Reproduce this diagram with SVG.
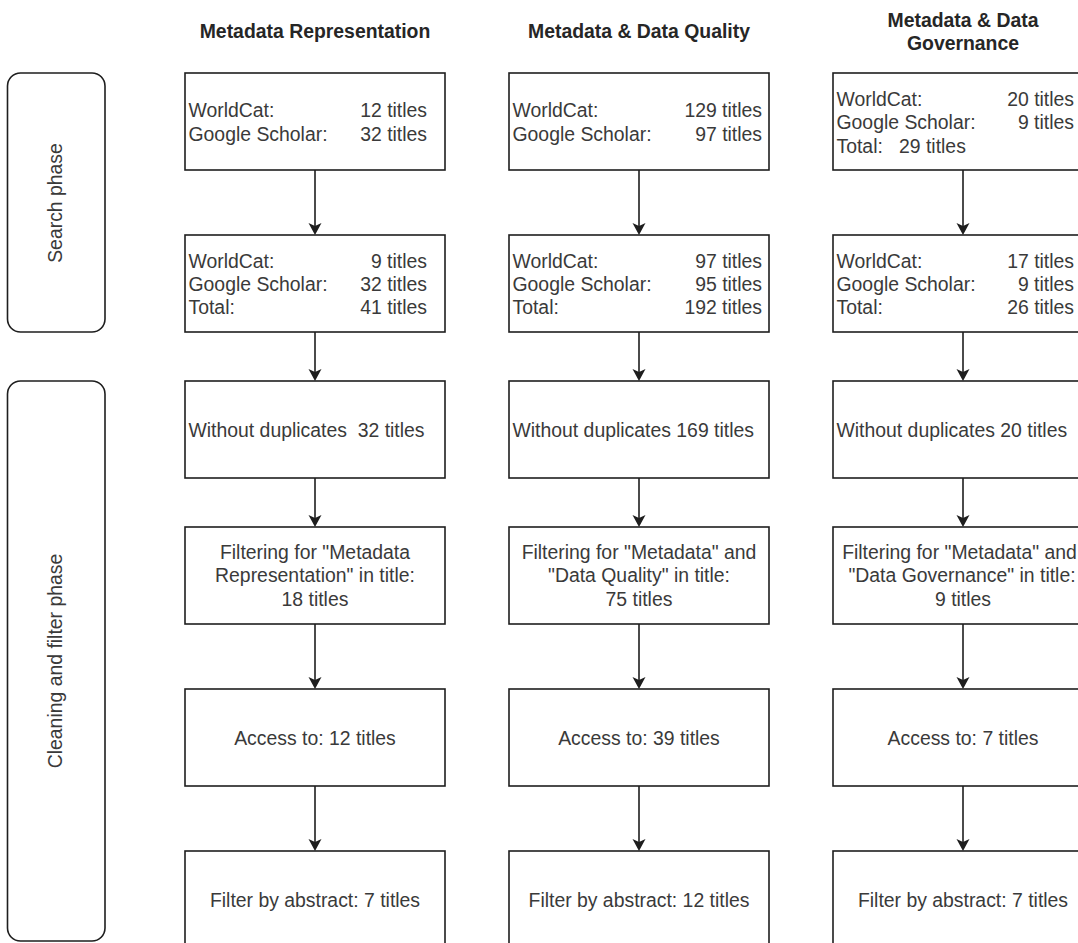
<svg xmlns="http://www.w3.org/2000/svg" width="1078" height="943" viewBox="0 0 1078 943">
<defs>
<style>
.box{fill:#fff;stroke:#1e1e1e;stroke-width:1.6}
.phase{fill:#fff;stroke:#1e1e1e;stroke-width:1.6}
.t{font-family:"Liberation Sans",Arial,sans-serif;font-size:19.4px;fill:#3a3a3a;white-space:pre}
.h{font-family:"Liberation Sans",Arial,sans-serif;font-size:19.4px;font-weight:bold;fill:#262626;text-anchor:middle}
.c{text-anchor:middle}
.r{text-anchor:end}
.edge{stroke:#1e1e1e;stroke-width:1.6;fill:none;marker-end:url(#arr)}
</style>
<marker id="arr" markerUnits="userSpaceOnUse" markerWidth="14" markerHeight="14" refX="3" refY="6.5" orient="auto">
<path d="M0,0 L12,6.5 L0,13 L3,6.5 Z" fill="#1e1e1e"/>
</marker>
</defs>
<rect width="1078" height="943" fill="#fff"/>

<g id="headers">
<text class="h" x="315" y="38">Metadata Representation</text>
<text class="h" x="639" y="38">Metadata &amp; Data Quality</text>
<text class="h" x="963" y="27">Metadata &amp; Data</text>
<text class="h" x="963" y="50">Governance</text>
</g>

<g id="search-phase">
<rect class="phase" x="7.5" y="73" width="97.5" height="259" rx="13"/>
<text class="t c" transform="translate(62,203) rotate(-90)">Search phase</text>
</g>
<g id="cleaning-phase">
<rect class="phase" x="7.5" y="381" width="97.5" height="560" rx="13"/>
<text class="t c" transform="translate(62,661) rotate(-90)">Cleaning and filter phase</text>
</g>

<g id="connectors">
<line class="edge" x1="315" y1="170" x2="315" y2="226"/>
<line class="edge" x1="315" y1="332" x2="315" y2="372"/>
<line class="edge" x1="315" y1="478" x2="315" y2="518"/>
<line class="edge" x1="315" y1="624" x2="315" y2="680"/>
<line class="edge" x1="315" y1="786" x2="315" y2="842"/>
<line class="edge" x1="639" y1="170" x2="639" y2="226"/>
<line class="edge" x1="639" y1="332" x2="639" y2="372"/>
<line class="edge" x1="639" y1="478" x2="639" y2="518"/>
<line class="edge" x1="639" y1="624" x2="639" y2="680"/>
<line class="edge" x1="639" y1="786" x2="639" y2="842"/>
<line class="edge" x1="963" y1="170" x2="963" y2="226"/>
<line class="edge" x1="963" y1="332" x2="963" y2="372"/>
<line class="edge" x1="963" y1="478" x2="963" y2="518"/>
<line class="edge" x1="963" y1="624" x2="963" y2="680"/>
<line class="edge" x1="963" y1="786" x2="963" y2="842"/>
</g>

<!-- Column 1 -->
<g id="mr-search">
<rect class="box" x="185" y="73" width="260" height="97"/>
<text class="t" x="188.5" y="117">WorldCat:</text>
<text class="t r" x="427" y="117">12 titles</text>
<text class="t" x="188.5" y="140.5">Google Scholar:</text>
<text class="t r" x="427" y="140.5">32 titles</text>
</g>
<g id="mr-merged">
<rect class="box" x="185" y="235" width="260" height="97"/>
<text class="t" x="188.5" y="267.5">WorldCat:</text>
<text class="t r" x="427" y="267.5">9 titles</text>
<text class="t" x="188.5" y="290.8">Google Scholar:</text>
<text class="t r" x="427" y="290.8">32 titles</text>
<text class="t" x="188.5" y="314">Total:</text>
<text class="t r" x="427" y="314">41 titles</text>
</g>
<g id="mr-dedup">
<rect class="box" x="185" y="381" width="260" height="97"/>
<text class="t" x="188.5" y="436.5">Without duplicates  32 titles</text>
</g>
<g id="mr-filter">
<rect class="box" x="185" y="527" width="260" height="97"/>
<text class="t c" x="315" y="559">Filtering for "Metadata</text>
<text class="t c" x="315" y="582.3">Representation" in title:</text>
<text class="t c" x="315" y="605.6">18 titles</text>
</g>
<g id="mr-access">
<rect class="box" x="185" y="689" width="260" height="97"/>
<text class="t c" x="315" y="744.5">Access to: 12 titles</text>
</g>
<g id="mr-abstract">
<rect class="box" x="185" y="851" width="260" height="97"/>
<text class="t c" x="315" y="906.5">Filter by abstract: 7 titles</text>
</g>

<!-- Column 2 -->
<g id="dq-search">
<rect class="box" x="509" y="73" width="260" height="97"/>
<text class="t" x="512.5" y="117">WorldCat:</text>
<text class="t r" x="762" y="117">129 titles</text>
<text class="t" x="512.5" y="140.5">Google Scholar:</text>
<text class="t r" x="762" y="140.5">97 titles</text>
</g>
<g id="dq-merged">
<rect class="box" x="509" y="235" width="260" height="97"/>
<text class="t" x="512.5" y="267.5">WorldCat:</text>
<text class="t r" x="762" y="267.5">97 titles</text>
<text class="t" x="512.5" y="290.8">Google Scholar:</text>
<text class="t r" x="762" y="290.8">95 titles</text>
<text class="t" x="512.5" y="314">Total:</text>
<text class="t r" x="762" y="314">192 titles</text>
</g>
<g id="dq-dedup">
<rect class="box" x="509" y="381" width="260" height="97"/>
<text class="t" x="512.5" y="436.5">Without duplicates 169 titles</text>
</g>
<g id="dq-filter">
<rect class="box" x="509" y="527" width="260" height="97"/>
<text class="t c" x="639" y="559">Filtering for "Metadata" and</text>
<text class="t c" x="639" y="582.3">"Data Quality" in title:</text>
<text class="t c" x="639" y="605.6">75 titles</text>
</g>
<g id="dq-access">
<rect class="box" x="509" y="689" width="260" height="97"/>
<text class="t c" x="639" y="744.5">Access to: 39 titles</text>
</g>
<g id="dq-abstract">
<rect class="box" x="509" y="851" width="260" height="97"/>
<text class="t c" x="639" y="906.5">Filter by abstract: 12 titles</text>
</g>

<!-- Column 3 -->
<g id="dg-search">
<rect class="box" x="833" y="73" width="260" height="97"/>
<text class="t" x="836.5" y="106">WorldCat:</text>
<text class="t r" x="1074" y="106">20 titles</text>
<text class="t" x="836.5" y="129.3">Google Scholar:</text>
<text class="t r" x="1074" y="129.3">9 titles</text>
<text class="t" x="836.5" y="152.6">Total:   29 titles</text>
</g>
<g id="dg-merged">
<rect class="box" x="833" y="235" width="260" height="97"/>
<text class="t" x="836.5" y="267.5">WorldCat:</text>
<text class="t r" x="1074" y="267.5">17 titles</text>
<text class="t" x="836.5" y="290.8">Google Scholar:</text>
<text class="t r" x="1074" y="290.8">9 titles</text>
<text class="t" x="836.5" y="314">Total:</text>
<text class="t r" x="1074" y="314">26 titles</text>
</g>
<g id="dg-dedup">
<rect class="box" x="833" y="381" width="260" height="97"/>
<text class="t" x="836.5" y="436.5">Without duplicates 20 titles</text>
</g>
<g id="dg-filter">
<rect class="box" x="833" y="527" width="260" height="97"/>
<text class="t c" x="959.5" y="559">Filtering for "Metadata" and</text>
<text class="t c" x="962" y="582.3">"Data Governance" in title:</text>
<text class="t c" x="963" y="605.6">9 titles</text>
</g>
<g id="dg-access">
<rect class="box" x="833" y="689" width="260" height="97"/>
<text class="t c" x="963" y="744.5">Access to: 7 titles</text>
</g>
<g id="dg-abstract">
<rect class="box" x="833" y="851" width="260" height="97"/>
<text class="t c" x="963" y="906.5">Filter by abstract: 7 titles</text>
</g>
</svg>
